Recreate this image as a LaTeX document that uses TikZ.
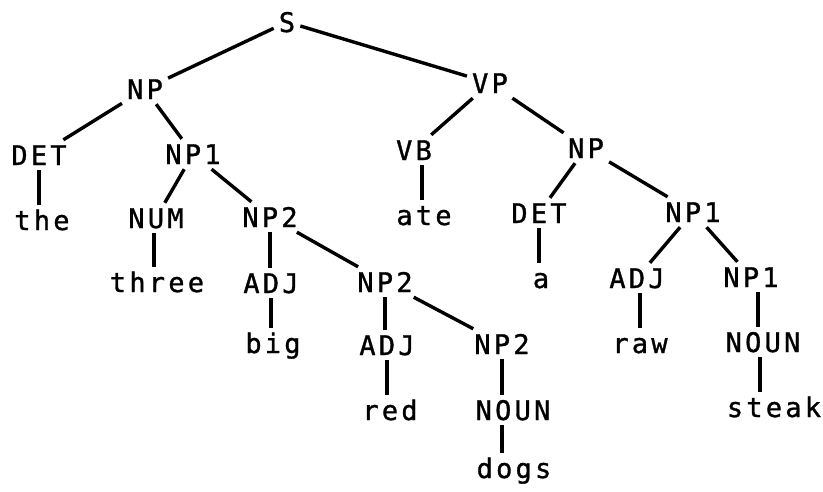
\documentclass[tikz,border=0pt]{standalone}
\usepackage{fontspec}
\setmonofont{DejaVu Sans Mono}[LetterSpace=12, FakeBold=1.2]
\begin{document}
\begin{tikzpicture}[x=1pt, y=-1pt,
  lab/.style={anchor=base, inner sep=5pt, text height=20pt, text depth=0pt, font=\ttfamily\fontsize{27}{30}\selectfont},
  branch/.style={line width=3.4pt}]

\useasboundingbox ( 0, 0 ) rectangle ( 823, 491 );

% Sentence
\node [lab] (s) at ( 287, 32 ) {S};
\node [lab] (np) at ( 145, 99 ) {NP};
\node [lab] (vp) at ( 490, 93 ) {VP};

% Subject
\node [lab] (det) at ( 39, 165 ) {DET};
\node [lab] (npa) at ( 193, 164 ) {NP1};
\node [lab] (the) at ( 42, 230 ) {the};
\node [lab] (num) at ( 156, 228 ) {NUM};
\node [lab] (npb) at ( 270, 227 ) {NP2};
\node [lab] (three) at ( 157, 292 ) {three};
\node [lab] (adj) at ( 271, 293 ) {ADJ};
\node [lab] (npc) at ( 385, 292 ) {NP2};
\node [lab] (big) at ( 273, 353 ) {big};
\node [lab] (adjb) at ( 387, 355 ) {ADJ};
\node [lab] (npd) at ( 502, 354 ) {NP2};
\node [lab] (red) at ( 390, 420 ) {red};
\node [lab] (noun) at ( 513, 420 ) {NOUN};
\node [lab] (dogs) at ( 514, 478 ) {dogs};

% Predicate
\node [lab] (vb) at ( 414, 160 ) {VB};
\node [lab] (npr) at ( 586, 158 ) {NP};
\node [lab] (ate) at ( 424, 225 ) {ate};
\node [lab] (detr) at ( 539, 223 ) {DET};
\node [lab] (npra) at ( 693, 222 ) {NP1};
\node [lab] (a) at ( 541, 288 ) {a};
\node [lab] (adjr) at ( 637, 288 ) {ADJ};
\node [lab] (nprb) at ( 751, 287 ) {NP1};
\node [lab] (raw) at ( 640, 353 ) {raw};
\node [lab] (nounr) at ( 763, 352 ) {NOUN};
\node [lab] (steak) at ( 774, 417 ) {steak};

% Branches
\draw [branch] (s) -- (np);
\draw [branch] (s) -- (vp);
\draw [branch] (np) -- (det);
\draw [branch] (np) -- (npa);
\draw [branch] (det.south) -- (det.south |- the.north);
\draw [branch] (npa) -- (num);
\draw [branch] (npa) -- (npb);
\draw [branch] ([xshift=-2pt]num.south) -- ([xshift=-2pt]num.south |- three.north);
\draw [branch] (npb.south) -- (npb.south |- adj.north);
\draw [branch] (npb) -- (npc);
\draw [branch] (adj.south) -- (adj.south |- big.north);
\draw [branch] (npc.south) -- (npc.south |- adjb.north);
\draw [branch] (npc) -- (npd);
\draw [branch] (adjb.south) -- (adjb.south |- red.north);
\draw [branch] (npd.south) -- (npd.south |- noun.north);
\draw [branch] ([xshift=-11pt]noun.south) -- ([xshift=-11pt]noun.south |- dogs.north);

\draw [branch] (vp) -- (vb);
\draw [branch] (vp) -- (npr);
\draw [branch] ([xshift=8pt]vb.south) -- ([xshift=8pt]vb.south |- ate.north);
\draw [branch] (npr) -- (detr);
\draw [branch] (npr) -- (npra);
\draw [branch] (detr.south) -- (detr.south |- a.north);
\draw [branch] (npra) -- (adjr);
\draw [branch] (npra) -- (nprb);
\draw [branch] ([xshift=3pt]adjr.south) -- ([xshift=3pt]adjr.south |- raw.north);
\draw [branch] ([xshift=7pt]nprb.south) -- ([xshift=7pt]nprb.south |- nounr.north);
\draw [branch] ([xshift=-3pt]nounr.south) -- ([xshift=-3pt]nounr.south |- steak.north);

\end{tikzpicture}
\end{document}
